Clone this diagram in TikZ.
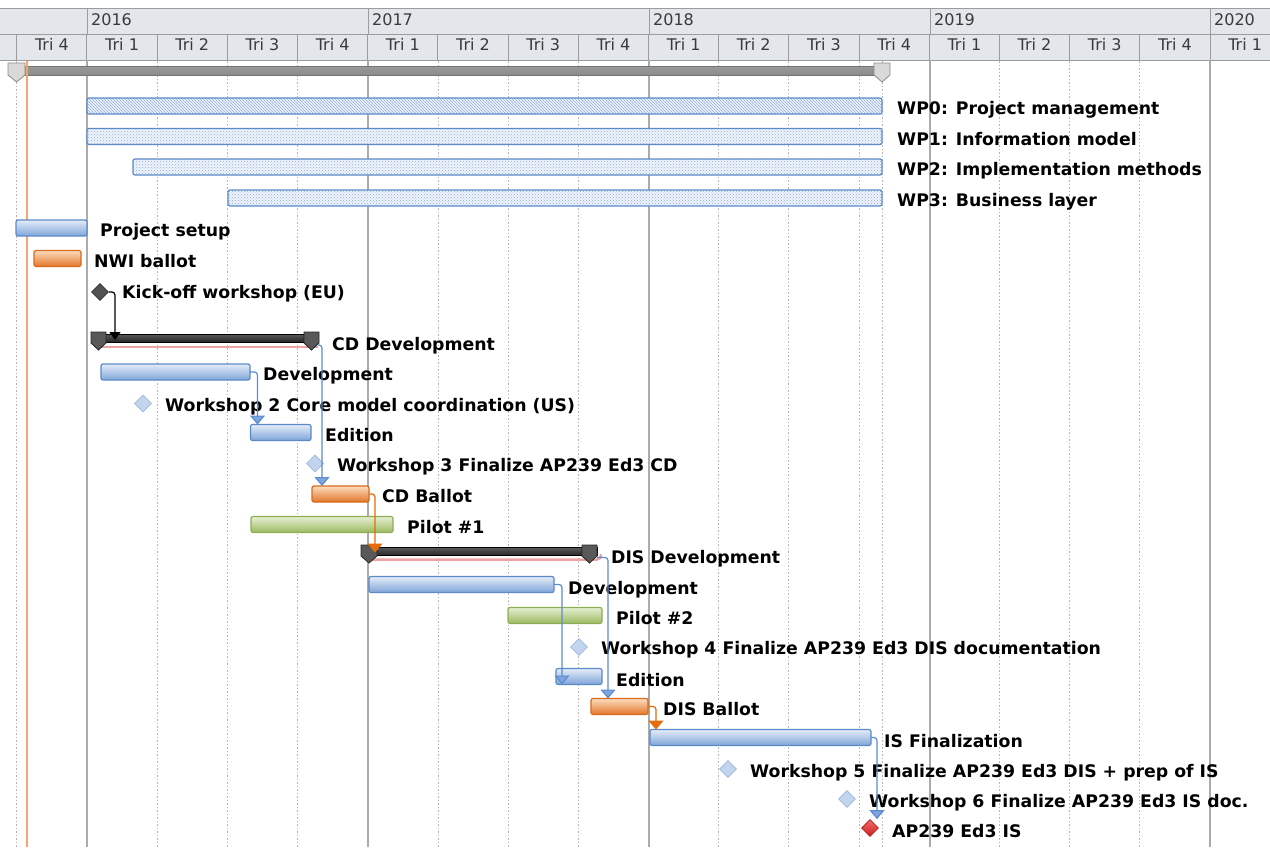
\documentclass[tikz,border=0pt]{standalone}
\usepackage{fontspec}
\setmainfont{DejaVu Sans}
\usetikzlibrary{arrows.meta,shapes.geometric,patterns}

\definecolor{hdrfill}{HTML}{E3E6EB}
\definecolor{hdrline}{HTML}{9C9C9C}
\definecolor{hdrtext}{HTML}{3A3A3A}
\definecolor{yearline}{HTML}{ABABAB}
\definecolor{qline}{HTML}{B4B4B4}
\definecolor{todayc}{HTML}{F4A66A}
\definecolor{blueT}{HTML}{E4ECF8}
\definecolor{blueM}{HTML}{D0DEF2}
\definecolor{blueB}{HTML}{7FA5D9}
\definecolor{barblue}{HTML}{5B8AC8}
\definecolor{orangeT}{HTML}{FCDCBE}
\definecolor{orangeM}{HTML}{F6AE72}
\definecolor{orangeB}{HTML}{E2762A}
\definecolor{barorange}{HTML}{D9691C}
\definecolor{greenT}{HTML}{E6EFD4}
\definecolor{greenM}{HTML}{CFDFAE}
\definecolor{greenB}{HTML}{9BBA5E}
\definecolor{bargreen}{HTML}{8EAD55}
\definecolor{wpfill}{HTML}{EFF4FB}
\definecolor{hatchblue}{HTML}{8EAEE0}
\definecolor{linkblue}{HTML}{5B8BD0}
\definecolor{arrowblue}{HTML}{7EA5DC}
\definecolor{linkorange}{HTML}{E46C0A}
\definecolor{pinkc}{HTML}{EBA3A3}
\definecolor{msfill}{HTML}{C3D4EF}
\definecolor{msdraw}{HTML}{9DB6E0}
\definecolor{redT}{HTML}{F26A6A}
\definecolor{redB}{HTML}{CC2020}
\definecolor{redD}{HTML}{B51C1C}

\begin{document}
\begin{tikzpicture}[x=1pt,y=-1pt,
  hdr/.style={font=\fontsize{16}{18}\selectfont, text=hdrtext, inner sep=0pt},
  lbl/.style={anchor=base west, inner sep=0pt, font=\fontsize{17.3}{20}\selectfont\bfseries, text=black},
  bar/.style={anchor=west, inner sep=0pt, outer sep=0pt, minimum height=16pt, rounded corners=2pt, line width=1.2pt},
  bluebar/.style={bar, draw=barblue, top color=blueT, middle color=blueM, bottom color=blueB},
  orangebar/.style={bar, draw=barorange, top color=orangeT, middle color=orangeM, bottom color=orangeB},
  greenbar/.style={bar, draw=bargreen, top color=greenT, middle color=greenM, bottom color=greenB},
  wpbar/.style={bar, draw=barblue, preaction={fill=wpfill}, pattern color=hatchblue},
  sumbar/.style={anchor=west, inner sep=0pt, outer sep=0pt, minimum height=8pt, draw=black, line width=1pt, top color=black!65, bottom color=black!85},
  sumcap/.style={draw=black!85, fill=black!65, line width=0.8pt},
  projbar/.style={anchor=west, inner sep=0pt, outer sep=0pt, minimum height=9pt, draw=black!55, line width=1pt, top color=black!40, middle color=black!25, bottom color=black!45},
  projcap/.style={draw=black!45, fill=black!15, line width=0.8pt},
  pinkline/.style={draw=pinkc, line width=2.5pt},
  ms/.style={shape=diamond, minimum width=17pt, minimum height=17pt, inner sep=0pt, line width=0.8pt},
  msblue/.style={ms, fill=msfill, draw=msdraw},
  msdark/.style={ms, fill=black!68, draw=black!82},
  msred/.style={ms, top color=redT, bottom color=redB, draw=redD},
  blink/.style={draw=linkblue, line width=1.2pt, rounded corners=3pt, -{Triangle[width=15pt,length=9pt,fill=arrowblue,sharp]}},
  olink/.style={draw=linkorange, line width=1.2pt, rounded corners=3pt, -{Triangle[width=15pt,length=9pt,fill=linkorange,sharp]}},
  klink/.style={draw=black, line width=1.2pt, rounded corners=3pt, -{Triangle[width=11pt,length=8pt,sharp]}},
  todayline/.style={draw=todayc, line width=1.5pt},
  qgrid/.style={draw=qline, line width=0.8pt, dash pattern=on 1.5pt off 2pt},
  ygrid/.style={draw=yearline, line width=1.2pt}
]
\useasboundingbox (0,0) rectangle (1270,847);

% ---------- timescale header ----------
\fill[hdrfill] (0,8) rectangle (1270,60);
\draw[hdrline, line width=1pt] (0,8) -- (1270,8) (0,34) -- (1270,34) (0,60) -- (1270,60);
\foreach \x in {87,368,649,930,1210} \draw[hdrline, line width=1pt] (\x,8) -- (\x,34);
\foreach \k in {0,...,17} \draw[hdrline, line width=1pt] ({16.8+70.19*\k},34) -- ({16.8+70.19*\k},60);
\node[hdr, anchor=base west] (y2016) at (91,25.5) {2016};
\node[hdr, anchor=base west] (y2017) at (372,25.5) {2017};
\node[hdr, anchor=base west] (y2018) at (653,25.5) {2018};
\node[hdr, anchor=base west] (y2019) at (934,25.5) {2019};
\node[hdr, anchor=base west] (y2020) at (1214,25.5) {2020};
\foreach \k in {0,...,17} {
  \pgfmathtruncatemacro\q{mod(\k+3,4)+1}
  \node[hdr, anchor=base] (tri\k) at ({16.8+70.19*(\k+0.5)},50.5) {Tri \q};
}

% ---------- chart grid ----------
\foreach \k in {0,...,17} \draw[qgrid] ({16.8+70.19*\k},61) -- ({16.8+70.19*\k},847);
\draw[qgrid] (882,61) -- (882,847);
\foreach \x in {87,368,649,930,1210} \draw[ygrid] (\x,60) -- (\x,847);

% ---------- project summary ----------
\node[projbar, minimum width=866pt] (proj) at (16,70.5) {};
\draw[projcap] (8,63) -- (25,63) -- (25,75) -- (16.5,82) -- (8,75) -- cycle;
\draw[projcap] (874,63) -- (890,63) -- (890,75) -- (882,82) -- (874,75) -- cycle;
\draw[todayline] (27,61) -- (27,847);

% ---------- work packages ----------
\node[wpbar, pattern=north west lines, minimum width=795pt] (wp0) at (87,106) {};
\node[wpbar, pattern=crosshatch dots, minimum width=795pt] (wp1) at (87,136.5) {};
\node[wpbar, pattern=crosshatch dots, minimum width=749pt] (wp2) at (133,167) {};
\node[wpbar, pattern=crosshatch dots, minimum width=654pt] (wp3) at (228,198) {};

% ---------- tasks ----------
\node[bluebar, minimum width=71pt] (psetup) at (16,228) {};
\node[orangebar, minimum width=47pt] (nwi) at (34,258.5) {};
\node[bluebar, minimum width=149pt] (dev1) at (101,372) {};
\node[bluebar, minimum width=60.5pt] (ed1) at (250.5,432.5) {};
\node[orangebar, minimum width=57pt] (cdb) at (312,494) {};
\node[greenbar, minimum width=142pt] (pilot1) at (251,524.5) {};
\node[bluebar, minimum width=185pt] (dev2) at (369,584.5) {};
\node[greenbar, minimum width=94pt] (pilot2) at (508,615.5) {};
\node[bluebar, minimum width=46pt] (ed2) at (556,676.5) {};
\node[orangebar, minimum width=57pt] (db) at (591,706.5) {};
\node[bluebar, minimum width=221pt] (isf) at (650,737.5) {};

% ---------- phase summaries ----------
\draw[pinkline] (100,347) -- (318,347);
\node[sumbar, minimum width=226pt] (cdd) at (92,338) {};
\draw[sumcap] (91,332) -- (106,332) -- (106,343) -- (98.5,350) -- (91,343) -- cycle;
\draw[sumcap] (304,332) -- (319,332) -- (319,343) -- (311.5,350) -- (304,343) -- cycle;

\draw[pinkline, line cap=round] (370,559.5) -- (597,559.5) to[out=0,in=-90] (601,555);
\node[sumbar, minimum width=235pt] (ddd) at (362,551.5) {};
\draw[sumcap] (361,545) -- (377,545) -- (377,556) -- (369,563) -- (361,556) -- cycle;
\draw[sumcap] (582,545) -- (597,545) -- (597,556) -- (589.5,563) -- (582,556) -- cycle;

% ---------- milestones ----------
\node[msdark] (ko) at (100,292) {};
\node[msblue] (ws2) at (143,403.5) {};
\node[msblue] (ws3) at (315,463.5) {};
\node[msblue] (ws4) at (579,647) {};
\node[msblue] (ws5) at (728,769) {};
\node[msblue] (ws6) at (847,799) {};
\node[msred] (ap) at (870,828) {};

% ---------- labels ----------
\node[lbl] (wp0-l) at (897,114.5) {WP0: Project management};
\node[lbl] (wp1-l) at (897,145) {WP1: Information model};
\node[lbl] (wp2-l) at (897,175.5) {WP2: Implementation methods};
\node[lbl] (wp3-l) at (897,206) {WP3: Business layer};
\node[lbl] (psetup-l) at (100,236.5) {Project setup};
\node[lbl] (nwi-l) at (94,267) {NWI ballot};
\node[lbl] (ko-l) at (122,298) {Kick-off workshop (EU)};
\node[lbl] (cdd-l) at (332,350) {CD Development};
\node[lbl] (dev1-l) at (263,380) {Development};
\node[lbl] (ws2-l) at (165,411) {Workshop 2 Core model coordination (US)};
\node[lbl] (ed1-l) at (325,441) {Edition};
\node[lbl] (ws3-l) at (337,471.5) {Workshop 3 Finalize AP239 Ed3 CD};
\node[lbl] (cdb-l) at (382,502.5) {CD Ballot};
\node[lbl] (pilot1-l) at (407,533) {Pilot \#1};
\node[lbl] (ddd-l) at (611,563) {DIS Development};
\node[lbl] (dev2-l) at (568,594) {Development};
\node[lbl] (pilot2-l) at (616,624) {Pilot \#2};
\node[lbl] (ws4-l) at (601,654) {Workshop 4 Finalize AP239 Ed3 DIS documentation};
\node[lbl] (ed2-l) at (616,686) {Edition};
\node[lbl] (db-l) at (663,715) {DIS Ballot};
\node[lbl] (isf-l) at (884,747) {IS Finalization};
\node[lbl] (ws5-l) at (750,777) {Workshop 5 Finalize AP239 Ed3 DIS + prep of IS};
\node[lbl] (ws6-l) at (869,807) {Workshop 6 Finalize AP239 Ed3 IS doc.};
\node[lbl] (ap-l) at (892,837) {AP239 Ed3 IS};

% ---------- dependencies ----------
\draw[klink, shorten >=-6pt] (ko.east) -| ([xshift=23pt]cdd.north west);
\draw[blink] (dev1.east) -| ([xshift=7pt]ed1.north west);
\draw[blink] ([yshift=-7pt]cdd.east) -| ([xshift=10pt]cdb.north west);
\draw[olink, shorten >=-5pt] (cdb.east) -| ([xshift=13pt]ddd.north west);
\draw[blink] (dev2.east) -| ([xshift=6pt]ed2.south west);
\draw[blink] ([yshift=-6pt]ddd.east) -| ([xshift=17pt]db.north west);
\draw[olink] (db.east) -| ([xshift=6pt]isf.north west);
\draw[blink] (isf.east) -| ([xshift=7pt]ap.north);
\end{tikzpicture}
\end{document}
